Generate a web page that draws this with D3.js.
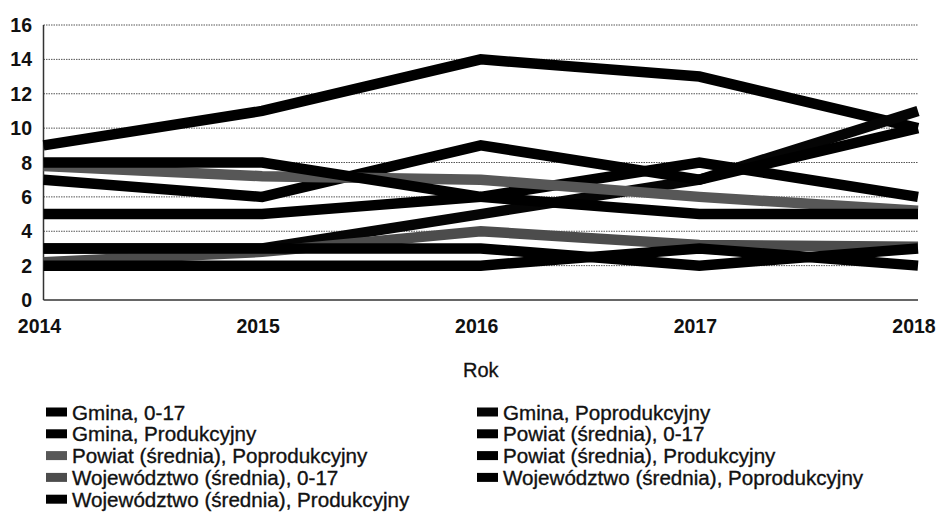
<!DOCTYPE html>
<html>
<head>
<meta charset="utf-8">
<script src="https://cdn.jsdelivr.net/npm/d3@7"></script>
<style>
  html, body { margin: 0; padding: 0; background: #fff; }
  svg { display: block; font-family: "Liberation Sans", Arial, sans-serif; }
</style>
</head>
<body>
<svg id="chart" width="939" height="523"></svg>
<script>
const years = [2014, 2015, 2016, 2017, 2018];
const yTicks = [0, 2, 4, 6, 8, 10, 12, 14, 16];
const xTickLabels = ["2014", "2015", "2016", "2017", "2018"];
const xAxisTitle = "Rok";

const seriesNames = [
  "Gmina, 0-17",
  "Gmina, Poprodukcyjny",
  "Gmina, Produkcyjny",
  "Powiat (średnia), 0-17",
  "Powiat (średnia), Poprodukcyjny",
  "Powiat (średnia), Produkcyjny",
  "Województwo (średnia), 0-17",
  "Województwo (średnia), Poprodukcyjny",
  "Województwo (średnia), Produkcyjny"
];
const gmina017        = [9, 11, 14, 13, 10];
const gminaPoprod     = [3, 3, 5, 7, 11];
const gminaProd       = [7, 6, 9, 7, 10];
const powiat017       = [5, 5, 6, 8, 6];
const powiatPoprod    = [7.8, 7.2, 7, 6, 5.2];
const powiatProd      = [8, 8, 6, 5, 5];
const woj017          = [2.2, 2.8, 4, 3.2, 3.1];
const wojPoprod       = [3, 3, 3, 2, 3];
const wojProd         = [2, 2, 2, 3, 2];
const seriesValues = [gmina017, gminaPoprod, gminaProd, powiat017, powiatPoprod, powiatProd, woj017, wojPoprod, wojProd];
const seriesColors = ["#000", "#050505", "#000", "#000", "#575757", "#000", "#4c4c4c", "#000", "#000"];

const svg = d3.select("#chart");
const x = d3.scaleLinear().domain([2014, 2018]).range([43.5, 918]);
const y = d3.scaleLinear().domain([0, 16]).range([300, 25]);

// grid lines
svg.append("g").selectAll("line")
  .data(yTicks.filter(d => d > 0))
  .join("line")
  .attr("x1", x(2014)).attr("x2", x(2018))
  .attr("y1", d => y(d)).attr("y2", d => y(d))
  .attr("stroke", "#555").attr("stroke-width", 1)
  .attr("stroke-dasharray", "1.5,1");

// axes lines
svg.append("line").attr("x1", x(2014)).attr("x2", x(2014)).attr("y1", y(16)).attr("y2", y(0))
  .attr("stroke", "#333").attr("stroke-width", 1.5);
svg.append("line").attr("x1", x(2014)).attr("x2", x(2018)).attr("y1", y(0)).attr("y2", y(0))
  .attr("stroke", "#333").attr("stroke-width", 1.5);

// y tick labels
svg.append("g").selectAll("text")
  .data(yTicks).join("text")
  .attr("x", 32).attr("y", d => y(d))
  .attr("text-anchor", "end").attr("dominant-baseline", "central")
  .attr("font-size", 19.5).attr("font-weight", "bold").attr("fill", "#111")
  .text(d => d);

// x tick labels
svg.append("g").selectAll("text")
  .data(years).join("text")
  .attr("x", d => x(d) - 4).attr("y", 333)
  .attr("text-anchor", "middle")
  .attr("font-size", 19.5).attr("font-weight", "bold").attr("fill", "#111")
  .text((d, i) => xTickLabels[i]);

svg.append("text").attr("x", x(2016)).attr("y", 377)
  .attr("text-anchor", "middle").attr("font-size", 20).attr("fill", "#111")
  .attr("stroke", "#111").attr("stroke-width", 0.3)
  .text(xAxisTitle);

// lines
const line = d3.line().x((d, i) => x(years[i])).y(d => y(d));
svg.append("g").selectAll("path")
  .data(seriesValues).join("path")
  .attr("d", d => line(d))
  .attr("fill", "none")
  .attr("stroke", (d, i) => seriesColors[i])
  .attr("stroke-width", 10.5)
  .attr("stroke-linejoin", "miter")
  .attr("stroke-linecap", "butt");

// legend (row-major, 2 columns)
const leg = svg.append("g");
seriesNames.forEach((name, i) => {
  const col = i % 2, row = Math.floor(i / 2);
  const sx = col === 0 ? 46 : 477;
  const cy = 412 + row * 21.8;
  leg.append("rect").attr("x", sx).attr("y", cy - 4.5).attr("width", 21).attr("height", 9)
    .attr("fill", seriesColors[i]);
  leg.append("text").attr("x", sx + 26).attr("y", cy)
    .attr("dominant-baseline", "central").attr("font-size", 20.6).attr("fill", "#111")
    .attr("stroke", "#111").attr("stroke-width", 0.35)
    .text(name);
});
</script>
</body>
</html>
